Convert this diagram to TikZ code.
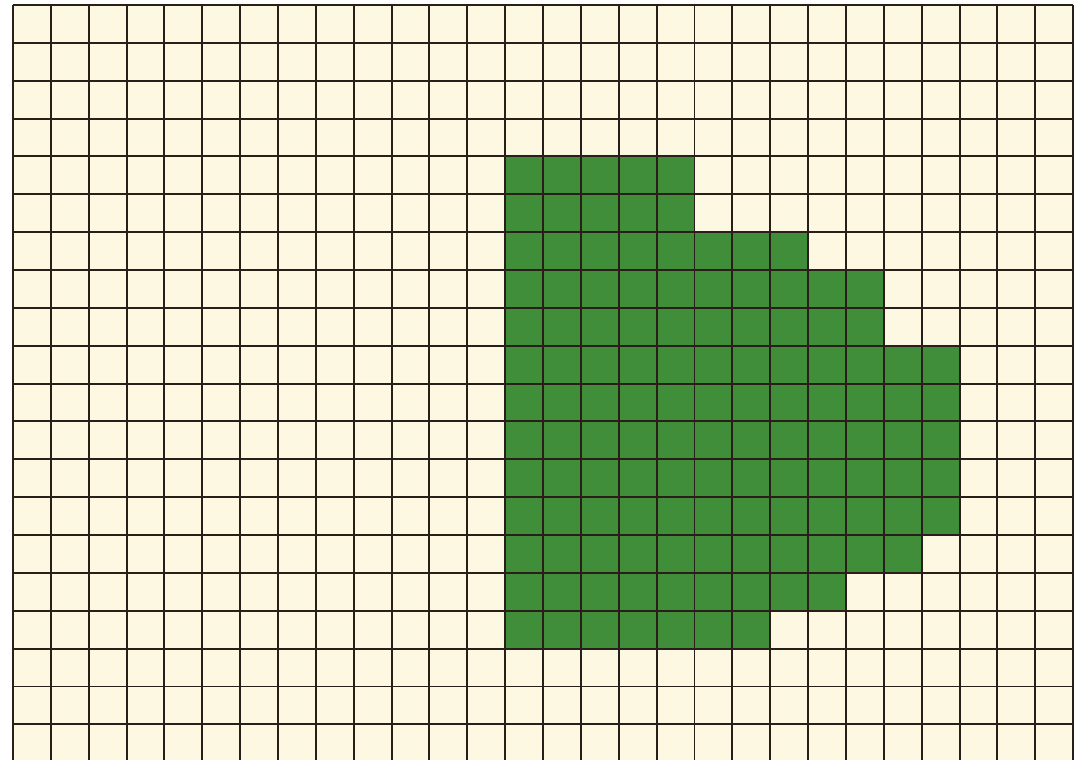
\documentclass[tikz,border=0pt]{standalone}
\usepackage{tikz}

\definecolor{cream}{HTML}{FCF8E2}
\definecolor{leaf}{HTML}{418E3A}
\definecolor{gridline}{HTML}{2A1E1A}

\begin{document}
\begin{tikzpicture}[
        scale=0.5,
        cell/.style={fill=leaf},
        gridlines/.style={draw=gridline, line width=0.75pt}
    ]
        \clip (-0.343,-19.94) rectangle (28.05,0.132);
        \fill[white] (-0.343,-19.94) rectangle (28.05,0.132);
        \fill[cream] (0,0) rectangle (28,-20);
        % green patch: row / last column, all rows start at column 13
        \foreach \r/\last in {4/17, 5/17, 6/20, 7/22, 8/22, 9/24, 10/24, 11/24, 12/24, 13/24, 14/23, 15/21, 16/19}
            \fill[cell] (13,-\r) rectangle (\last+1,-\r-1);
        \draw[gridlines] (0,0) grid (28,-20);
    \end{tikzpicture}
\end{document}
